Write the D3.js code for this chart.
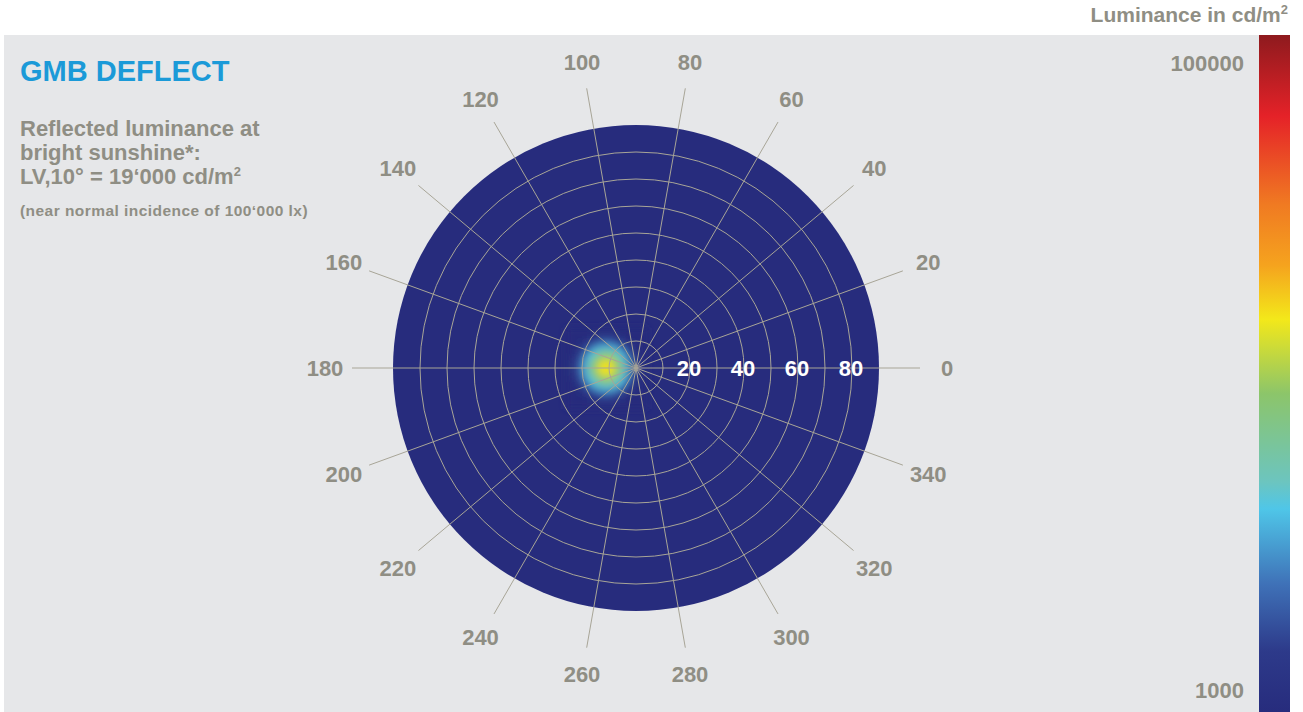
<!DOCTYPE html>
<html>
<head>
<meta charset="utf-8">
<script src="https://cdn.jsdelivr.net/npm/d3@7"></script>
<style>
  html, body { margin: 0; padding: 0; background: #fff; }
  svg text { font-family: "Liberation Sans", Arial, Helvetica, sans-serif; font-weight: bold; }
</style>
</head>
<body>
<svg id="chart" width="1303" height="712"></svg>
<script>
'use strict';

// angle labels around the plot (azimuth, degrees)
const azimuths = [0, 20, 40, 60, 80, 100, 120, 140, 160, 180, 200, 220, 240, 260, 280, 300, 320, 340];
// rings (zenith angle, degrees) and labelled rings
const rings = [10, 20, 30, 40, 50, 60, 70, 80];
const ringLabels = [20, 40, 60, 80];

// luminance grid (cd/m2) near the reflection peak, tilt in degrees
const gridX = [-25, -23, -21, -19, -17, -15, -13, -11, -9, -7, -5, -3, -1, 1, 3];
const gridY = [-14, -12, -10, -8, -6, -4, -2, 0, 2, 4, 6, 8, 10, 12, 14];
const luminance = [
  [1000, 1000, 1000, 1000, 1000, 1000, 1030, 1030, 1030, 1000, 1000, 1000, 1000, 1000, 1000],
  [1000, 1000, 1000, 1000, 1080, 1180, 1250, 1300, 1250, 1180, 1080, 1000, 1000, 1000, 1000],
  [1000, 1000, 1030, 1150, 1350, 1600, 1850, 1900, 1850, 1600, 1350, 1150, 1030, 1000, 1000],
  [1000, 1000, 1150, 1450, 1900, 2600, 3100, 3300, 3100, 2600, 1900, 1450, 1120, 1000, 1000],
  [1000, 1080, 1350, 1900, 2900, 4200, 5300, 5800, 5300, 4200, 2900, 1850, 1300, 1050, 1000],
  [1000, 1180, 1600, 2600, 4200, 6200, 8500, 9500, 8500, 6200, 4100, 2500, 1500, 1120, 1000],
  [1030, 1250, 1850, 3100, 5300, 8500, 12500, 14000, 12500, 8500, 5200, 3000, 1750, 1200, 1020],
  [1030, 1300, 1900, 3300, 5800, 9500, 14000, 16000, 14000, 9500, 5700, 3200, 1800, 1250, 1020],
  [1030, 1250, 1850, 3100, 5300, 8500, 12500, 14000, 12500, 8500, 5200, 3000, 1750, 1200, 1020],
  [1000, 1180, 1600, 2600, 4200, 6200, 8500, 9500, 8500, 6200, 4100, 2500, 1500, 1120, 1000],
  [1000, 1080, 1350, 1900, 2900, 4200, 5300, 5800, 5300, 4200, 2900, 1850, 1300, 1050, 1000],
  [1000, 1000, 1150, 1450, 1900, 2600, 3100, 3300, 3100, 2600, 1900, 1450, 1120, 1000, 1000],
  [1000, 1000, 1030, 1150, 1350, 1600, 1850, 1900, 1850, 1600, 1350, 1150, 1030, 1000, 1000],
  [1000, 1000, 1000, 1000, 1080, 1180, 1250, 1300, 1250, 1180, 1080, 1000, 1000, 1000, 1000],
  [1000, 1000, 1000, 1000, 1000, 1000, 1030, 1030, 1030, 1000, 1000, 1000, 1000, 1000, 1000]
];

// colour bar range and stops (position from bottom, colour)
const lumRange = [1000, 100000];
const colorPos = [0, 0.09, 0.19, 0.30, 0.34, 0.47, 0.58, 0.66, 0.75, 0.88, 1];
const colorHex = ["#272c7d", "#2d3a8a", "#3f72b8", "#4fc6e8", "#6cc5bf", "#8cc56a", "#f3e81a", "#f5a31e", "#f07a22", "#e52228", "#8e1a1e"];

const GRAY = "#8f8e84";
const GRID = "#a8a597";

const svg = d3.select("#chart");

// panel
svg.append("rect").attr("x", 4).attr("y", 35).attr("width", 1255).attr("height", 677).attr("fill", "#e6e7e9");

const cx = 636, cy = 368;
const r = d3.scaleLinear().domain([0, 90]).range([0, 243]);
const toT = d3.scaleLog().domain(lumRange).range([0, 1]).clamp(true);
const color = d3.scaleLinear().domain(colorPos).range(colorHex);

const g = svg.append("g").attr("transform", `translate(${cx},${cy})`);

g.append("circle").attr("r", r(90)).attr("fill", colorHex[0]);

// heat map cells, softened with blur
const defs = svg.append("defs");
defs.append("filter").attr("id", "soft")
  .attr("x", "-50%").attr("y", "-50%").attr("width", "200%").attr("height", "200%")
  .append("feGaussianBlur").attr("stdDeviation", 3.5);

const cells = [];
luminance.forEach((row, i) => row.forEach((v, j) => cells.push({ x: gridX[j], y: gridY[i], v })));
const step = 2;
g.append("g").attr("filter", "url(#soft)")
  .selectAll("rect").data(cells).enter().append("rect")
  .attr("x", d => r(d.x - step / 2))
  .attr("y", d => r(d.y - step / 2))
  .attr("width", r(step) + 0.5)
  .attr("height", r(step) + 0.5)
  .attr("fill", d => color(toT(d.v)));

// rings
g.selectAll(".ring").data(rings).enter().append("circle")
  .attr("r", d => r(d)).attr("fill", "none").attr("stroke", GRID).attr("stroke-width", 1);

// spokes
const rad = a => -a * Math.PI / 180;
g.selectAll(".spoke").data(azimuths).enter().append("line")
  .attr("x1", 0).attr("y1", 0)
  .attr("x2", d => 284 * Math.cos(rad(d)))
  .attr("y2", d => 284 * Math.sin(rad(d)))
  .attr("stroke", GRID).attr("stroke-width", 1);

// azimuth labels
g.selectAll(".az").data(azimuths).enter().append("text")
  .attr("x", d => 311 * Math.cos(rad(d)))
  .attr("y", d => 311 * Math.sin(rad(d)))
  .attr("dy", "0.36em").attr("text-anchor", "middle")
  .attr("font-size", 22).attr("fill", GRAY)
  .text(d => d);

// ring labels
g.selectAll(".rl").data(ringLabels).enter().append("text")
  .attr("x", d => r(d) - 1)
  .attr("y", 0).attr("dy", "0.36em").attr("text-anchor", "middle")
  .attr("font-size", 22).attr("fill", "#fff")
  .text(d => d);

// title and notes
svg.append("text").attr("x", 20).attr("y", 81).attr("font-size", 29).attr("fill", "#1b9ad8").text("GMB DEFLECT");
const notes = ["Reflected luminance at", "bright sunshine*:"];
notes.forEach((t, i) => svg.append("text").attr("x", 20).attr("y", 136 + i * 24).attr("font-size", 22).attr("fill", GRAY).text(t));
const lv = svg.append("text").attr("x", 20).attr("y", 184).attr("font-size", 22).attr("fill", GRAY);
lv.append("tspan").text("LV,10° = 19‘000 cd/m");
lv.append("tspan").attr("font-size", 13).attr("dy", -8).text("2");
svg.append("text").attr("x", 20).attr("y", 216).attr("font-size", 15.5).attr("letter-spacing", 0.45)
  .attr("fill", GRAY).text("(near normal incidence of 100‘000 lx)");

// colour bar
const grad = defs.append("linearGradient").attr("id", "cbar").attr("x1", 0).attr("y1", 1).attr("x2", 0).attr("y2", 0);
colorPos.forEach((p, i) => grad.append("stop").attr("offset", p).attr("stop-color", colorHex[i]));
svg.append("rect").attr("x", 1259).attr("y", 35).attr("width", 31).attr("height", 677).attr("fill", "url(#cbar)");

const cbY = d3.scaleLog().domain(lumRange).range([690, 63]);
svg.selectAll(".cbl").data(lumRange).enter().append("text")
  .attr("x", 1244).attr("y", d => cbY(d)).attr("dy", "0.36em")
  .attr("text-anchor", "end").attr("font-size", 22).attr("fill", GRAY)
  .text(d => d);

const unit = svg.append("text").attr("x", 1288).attr("y", 22).attr("text-anchor", "end").attr("font-size", 21).attr("fill", GRAY);
unit.append("tspan").text("Luminance in cd/m");
unit.append("tspan").attr("font-size", 13).attr("dy", -8).text("2");
</script>
</body>
</html>
